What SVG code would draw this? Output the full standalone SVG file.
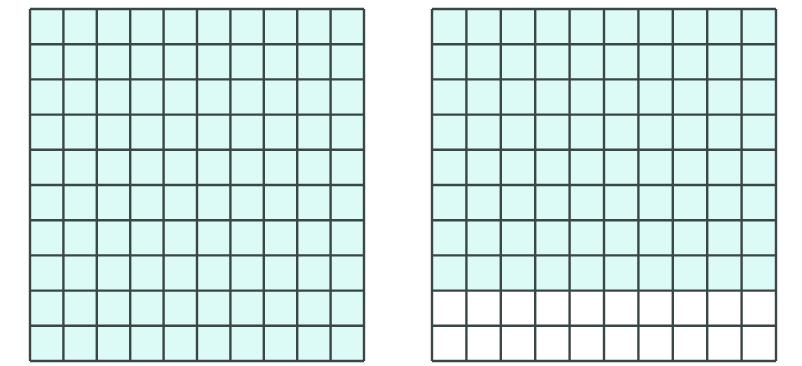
<svg xmlns="http://www.w3.org/2000/svg" width="802" height="366" viewBox="0 0 802 366">
<defs>
<style>
.g line{stroke:#3b4746;stroke-width:2.4}
.f{fill:#dcfbf7}
.w{fill:#ffffff}
</style>
</defs>
<rect width="802" height="366" fill="#ffffff"/>
<g id="grid-left">
<rect class="f" x="30" y="9" width="334" height="352"/>
<g class="g">
<line x1="30" y1="9" x2="30" y2="361"/><line x1="63.4" y1="9" x2="63.4" y2="361"/><line x1="96.8" y1="9" x2="96.8" y2="361"/><line x1="130.2" y1="9" x2="130.2" y2="361"/><line x1="163.6" y1="9" x2="163.6" y2="361"/><line x1="197" y1="9" x2="197" y2="361"/><line x1="230.4" y1="9" x2="230.4" y2="361"/><line x1="263.8" y1="9" x2="263.8" y2="361"/><line x1="297.2" y1="9" x2="297.2" y2="361"/><line x1="330.6" y1="9" x2="330.6" y2="361"/><line x1="364" y1="9" x2="364" y2="361"/>
<line x1="30" y1="9" x2="364" y2="9"/><line x1="30" y1="44.2" x2="364" y2="44.2"/><line x1="30" y1="79.4" x2="364" y2="79.4"/><line x1="30" y1="114.6" x2="364" y2="114.6"/><line x1="30" y1="149.8" x2="364" y2="149.8"/><line x1="30" y1="185" x2="364" y2="185"/><line x1="30" y1="220.2" x2="364" y2="220.2"/><line x1="30" y1="255.4" x2="364" y2="255.4"/><line x1="30" y1="290.6" x2="364" y2="290.6"/><line x1="30" y1="325.8" x2="364" y2="325.8"/><line x1="30" y1="361" x2="364" y2="361"/>
</g>
</g>
<g id="grid-right">
<rect class="f" x="432" y="9" width="344" height="281.6"/>
<rect class="w" x="432" y="290.6" width="344" height="70.4"/>
<g class="g">
<line x1="432" y1="9" x2="432" y2="361"/><line x1="466.4" y1="9" x2="466.4" y2="361"/><line x1="500.8" y1="9" x2="500.8" y2="361"/><line x1="535.2" y1="9" x2="535.2" y2="361"/><line x1="569.6" y1="9" x2="569.6" y2="361"/><line x1="604" y1="9" x2="604" y2="361"/><line x1="638.4" y1="9" x2="638.4" y2="361"/><line x1="672.8" y1="9" x2="672.8" y2="361"/><line x1="707.2" y1="9" x2="707.2" y2="361"/><line x1="741.6" y1="9" x2="741.6" y2="361"/><line x1="776" y1="9" x2="776" y2="361"/>
<line x1="432" y1="9" x2="776" y2="9"/><line x1="432" y1="44.2" x2="776" y2="44.2"/><line x1="432" y1="79.4" x2="776" y2="79.4"/><line x1="432" y1="114.6" x2="776" y2="114.6"/><line x1="432" y1="149.8" x2="776" y2="149.8"/><line x1="432" y1="185" x2="776" y2="185"/><line x1="432" y1="220.2" x2="776" y2="220.2"/><line x1="432" y1="255.4" x2="776" y2="255.4"/><line x1="432" y1="290.6" x2="776" y2="290.6"/><line x1="432" y1="325.8" x2="776" y2="325.8"/><line x1="432" y1="361" x2="776" y2="361"/>
</g>
</g>
</svg>
